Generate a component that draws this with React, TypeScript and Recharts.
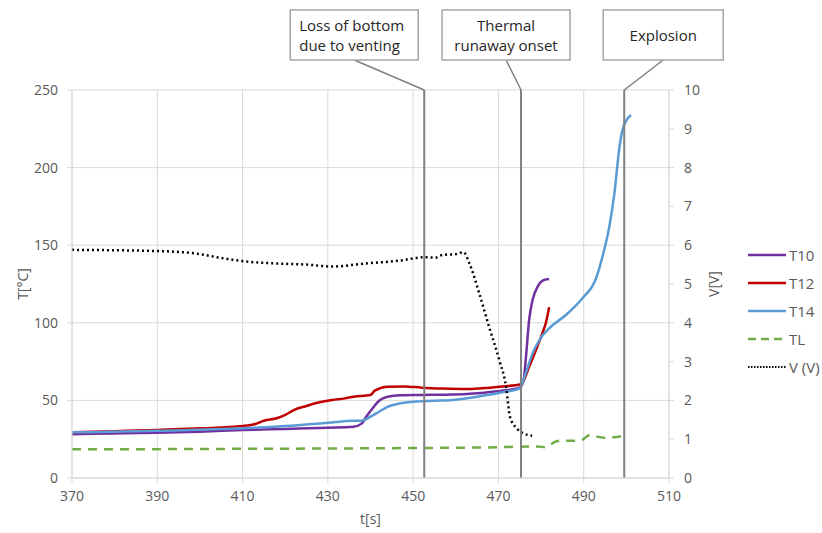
import React from 'react';
import { LineChart, Line, XAxis, YAxis, CartesianGrid, ReferenceLine } from 'recharts';

// time axis ticks [s]
const timeTicks = [370, 390, 410, 430, 450, 470, 490, 510];
const tempTicks = [0, 50, 100, 150, 200, 250];
const voltTicks = [0, 1, 2, 3, 4, 5, 6, 7, 8, 9, 10];

// T10
const t10Time = [370, 380, 390, 400, 410, 420, 430, 436, 438, 439, 440.5, 442, 444, 447, 452, 458, 462.5, 466, 470.3, 473, 475, 475.9, 476.4, 477.2, 478, 479.2, 480.7, 481.9];
const t10Temp = [28.2, 28.7, 29.2, 29.8, 30.9, 31.6, 32.4, 33, 35.2, 39.5, 44.9, 49.8, 52.4, 53.3, 53.5, 53.7, 54.1, 54.8, 56.1, 57, 58.2, 63, 76, 101.8, 114.7, 123.3, 127.6, 128.2];

// T12
const t12Time = [370, 380, 390, 400, 410, 413, 415, 418, 420, 422, 425, 428, 431, 434, 436, 440, 441, 444, 448, 452, 457, 462.5, 466, 470.3, 475.3, 477.2, 478.8, 480.3, 481.1, 481.9];
const t12Temp = [29.4, 30.2, 31, 32, 33.5, 34.8, 36.9, 38.5, 40.6, 43.8, 46.4, 48.8, 50.3, 51.3, 52.4, 53.5, 56.3, 58.8, 59, 58.2, 57.6, 57.3, 57.8, 58.8, 60.4, 71.7, 82.5, 93.2, 99.7, 110];

// T14
const t14Time = [370, 390, 410, 420, 430, 436, 438, 440, 442, 444, 447, 450, 455, 459.3, 466.3, 471, 475, 476.4, 478, 479.6, 481.9, 485.8, 489.7, 492.9, 494.4, 496, 497.2, 498.4, 499.1, 501.1];
const t14Temp = [29.4, 30.4, 32, 33.5, 35.6, 36.9, 36.9, 39.5, 42.7, 45.9, 48.1, 49.2, 49.8, 50.3, 53, 55.3, 57.8, 67.4, 80.3, 88.9, 96.4, 105, 115.8, 128.7, 142.6, 161.9, 183.4, 213.5, 224.2, 233.9];

// TL
const tlTime = [370, 390, 410, 430, 450, 460, 470, 475, 479, 481.3, 482.9, 484.5, 489.1, 491.5, 493, 494.6, 497, 499.1];
const tlTemp = [18.5, 18.6, 18.8, 19, 19.3, 19.5, 19.8, 20.2, 20.3, 19.8, 22.8, 24, 24, 27.7, 26.8, 26, 26.3, 27.1];

// V (V)
const vTime = [370, 390, 400, 405, 410, 420, 425, 431, 438.9, 446.7, 452.6, 455.3, 456.9, 460, 461.8, 463.2, 465.5, 467.8, 470.2, 471.8, 472.7, 474.3, 475.9, 477.9];
const vVolt = [5.88, 5.85, 5.77, 5.67, 5.59, 5.52, 5.5, 5.45, 5.53, 5.6, 5.69, 5.68, 5.75, 5.77, 5.82, 5.53, 4.76, 3.9, 3.04, 2.35, 1.58, 1.28, 1.15, 1.09];

// events
const eventTimes = [452.6, 475.3, 499.5];
const eventLabels = [['Loss of bottom', 'due to venting'], ['Thermal', 'runaway onset'], ['Explosion']];

const toPoints = (ts: number[], vs: number[]) => ts.map((t, i) => ({ t, v: vs[i] }));

const FONT = "'Open Sans', sans-serif";
const GRID = '#d9d9d9';
const TICK = { fill: '#595959', fontSize: 14, fontFamily: FONT };

const series = [
  { name: 'T10', data: toPoints(t10Time, t10Temp), color: '#7030a0', dash: undefined, legendDash: undefined, axis: 't' },
  { name: 'T12', data: toPoints(t12Time, t12Temp), color: '#c00000', dash: undefined, legendDash: undefined, axis: 't' },
  { name: 'T14', data: toPoints(t14Time, t14Temp), color: '#5b9bd5', dash: undefined, legendDash: undefined, axis: 't' },
  { name: 'TL', data: toPoints(tlTime, tlTemp), color: '#70ad47', dash: '9 7', legendDash: '8 5', axis: 't' },
  { name: 'V (V)', data: toPoints(vTime, vVolt), color: '#000000', dash: '2 3', legendDash: '1.5 1.5', axis: 'v' },
];

// callout box layout, relative to the top of each event line
const calloutStyle = [
  { dx: -70, w: 128, anchor: 'start' },
  { dx: -15, w: 128, anchor: 'middle' },
  { dx: 39, w: 120, anchor: 'middle' },
];

function makeCallout(i: number) {
  return (props: any) => {
    const vb = props.viewBox || {};
    const x = vb.x;
    const y = vb.y;
    const st = calloutStyle[i];
    const lines = eventLabels[i];
    const cx = x + st.dx;
    const bottom = y - 30;
    const top = bottom - 50;
    const left = cx - st.w / 2;
    const tx = st.anchor === 'start' ? left + 9 : cx;
    const firstY = top + 25 - (lines.length - 1) * 10;
    return (
      <g>
        <line x1={cx} y1={bottom} x2={x} y2={y} stroke="#808080" strokeWidth={1.5} />
        <rect x={left} y={top} width={st.w} height={50} fill="#fff" stroke="#a6a6a6" strokeWidth={1.5} />
        {lines.map((s, k) => (
          <text key={k} x={tx} y={firstY + k * 20} textAnchor={st.anchor} dominantBaseline="central"
            fontSize={15} fontFamily={FONT} fill="#262626">{s}</text>
        ))}
      </g>
    );
  };
}

function ChartLegend() {
  return (
    <div style={{ position: 'absolute', left: 748, top: 241, fontFamily: FONT }}>
      {series.map((s) => (
        <div key={s.name} style={{ display: 'flex', alignItems: 'center', height: 28 }}>
          <svg width={38} height={8}>
            <line x1={0} y1={4} x2={38} y2={4} stroke={s.color} strokeWidth={s.axis === 'v' ? 2 : 2.5} strokeDasharray={s.legendDash} />
          </svg>
          <span style={{ marginLeft: 3, fontSize: 15, color: '#595959', whiteSpace: 'nowrap' }}>{s.name}</span>
        </div>
      ))}
    </div>
  );
}

const axisTitle = (text: string, dx: number) => (props: any) => {
  const vb = props.viewBox || {};
  const x = vb.x + dx;
  const y = vb.y + vb.height / 2;
  return (
    <text transform={`translate(${x},${y}) rotate(-90)`} textAnchor="middle" dominantBaseline="central"
      fontSize={14} fontFamily={FONT} fill="#595959">{text}</text>
  );
};

export default function App() {
  return (
    <div style={{ position: 'relative', width: 822, height: 533, background: '#fff' }}>
      <style>{'body{margin:0}'}</style>
      <LineChart width={822} height={533} margin={{ top: 90, right: 93, bottom: 25, left: 0 }}>
        <CartesianGrid stroke={GRID} strokeWidth={1} yAxisId="t" />
        <XAxis dataKey="t" type="number" domain={[370, 510]} ticks={timeTicks} allowDataOverflow
          tick={TICK} tickLine={{ stroke: GRID }} tickSize={5} tickMargin={8} axisLine={{ stroke: GRID }} height={30}
          label={{ value: 't[s]', position: 'bottom', offset: 6, fill: '#595959', fontSize: 14, fontFamily: FONT }} />
        <YAxis yAxisId="t" domain={[0, 250]} ticks={tempTicks} width={72} tick={TICK}
          tickLine={{ stroke: GRID }} tickSize={5} tickMargin={9} axisLine={{ stroke: GRID }}
          label={{ content: axisTitle('T[°C]', 22) }} />
        <YAxis yAxisId="v" orientation="right" domain={[0, 10]} ticks={voltTicks} width={60} tick={TICK}
          tickLine={{ stroke: GRID }} tickSize={5} tickMargin={10} axisLine={{ stroke: GRID }}
          label={{ content: axisTitle('V[V]', 44) }} />
        {series.map((s) => (
          <Line key={s.name} yAxisId={s.axis} data={s.data} dataKey="v" name={s.name} type="monotone"
            stroke={s.color} strokeWidth={2.5} strokeDasharray={s.dash} dot={false} activeDot={false}
            isAnimationActive={false} />
        ))}
        {eventTimes.map((t, i) => (
          <ReferenceLine key={t} x={t} yAxisId="t" stroke="#808080" strokeWidth={2} ifOverflow="visible"
            label={makeCallout(i)} />
        ))}
      </LineChart>
      <ChartLegend />
    </div>
  );
}
